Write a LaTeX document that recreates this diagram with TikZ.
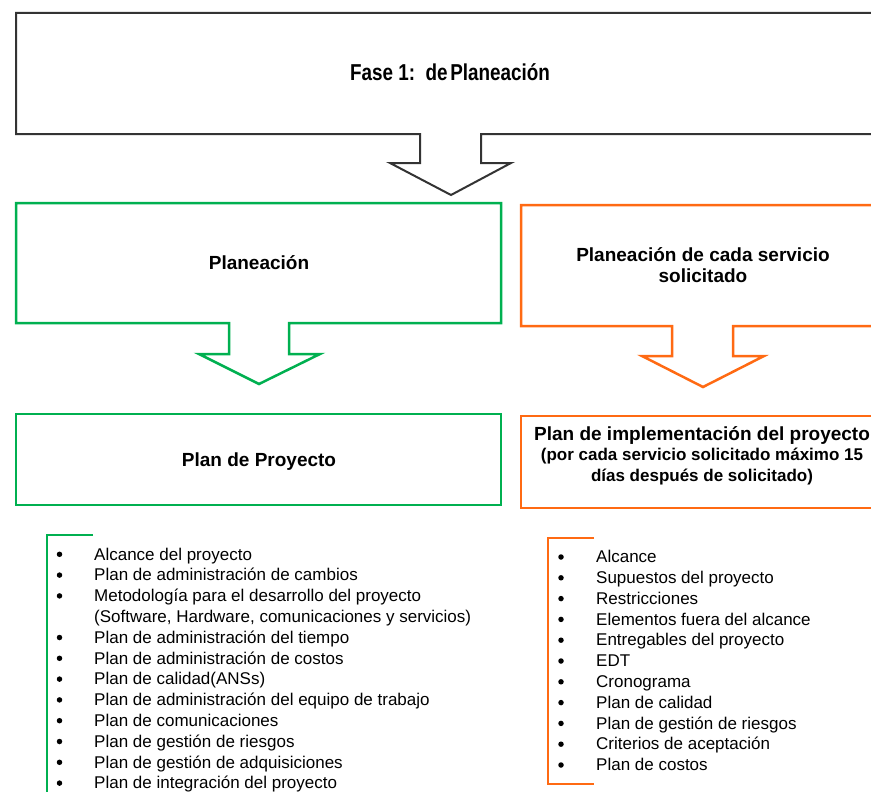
\documentclass[tikz,border=0pt]{standalone}
\usepackage{fontspec}
\setmainfont{Liberation Sans}
\newfontfamily\narrowfont[FakeStretch=0.82]{Liberation Sans}
\definecolor{verde}{HTML}{00B050}
\definecolor{naranja}{HTML}{FF6A13}
\definecolor{gris}{HTML}{333333}
\tikzset{
	titulo/.style={anchor=base, inner sep=0pt, font=\fontsize{19}{23}\selectfont\bfseries},
	subtitulo/.style={anchor=base, inner sep=0pt, font=\fontsize{17}{20}\selectfont\bfseries},
	item/.style={anchor=base west, inner sep=0pt, font=\fontsize{17}{20}\selectfont},
	vineta/.style={circle, fill=black, inner sep=0pt, minimum size=5.5pt},
}
\begin{document}
\begin{tikzpicture}[x=1pt, y=-1pt, line join=miter]
	\useasboundingbox (0,0) rectangle (871,792);
	\clip (0,0) rectangle (871,792);
	% fase 1
	\draw[gris, line width=2pt]
	(420,134)--(16,134)--(16,13)--(880,13)--(880,134)--(481,134)--(481,163)
	--(511,163)--(451,195)--(390,163)--(420,163)--cycle
	;
	\node[anchor=base, inner sep=0pt] (fase) at (450,81)
	{\narrowfont\fontsize{23}{27}\selectfont\bfseries Fase 1:\ \ de\hspace{0.12em}Planeación};
	% columna verde
	\draw[verde, line width=2.5pt]
	(229,323)--(16,323)--(16,203)--(501,203)--(501,323)--(289,323)--(289,354)
	--(320,354)--(259,384)--(199,354)--(229,354)--cycle
	;
	\draw[verde, line width=2.5pt] (16,414) rectangle (501,505);
	\path
	(259,269)node[titulo](planeacion){Planeación}
	(259,466)node[titulo](proyecto){Plan de Proyecto}
	;
	% columna naranja
	\draw[naranja, line width=2.5pt]
	(672,326)--(521,326)--(521,205)--(880,205)--(880,326)--(733,326)--(733,356)
	--(764,356)--(703,387)--(642,356)--(672,356)--cycle
	;
	\draw[naranja, line width=2.5pt] (521,416) rectangle (880,508);
	\path
	(703,261)node[titulo](servicio1){Planeación de cada servicio}
	(703,282)node[titulo](servicio2){solicitado}
	(702,440)node[titulo](impl1){Plan de implementación del proyecto}
	(702,460)node[subtitulo](impl2){(por cada servicio solicitado máximo 15}
	(702,481)node[subtitulo](impl3){días después de solicitado)}
	;
	% listas
	\draw[verde, line width=2pt] (93,535)--(47,535)--(47,800);
	\draw[naranja, line width=2pt] (594,538)--(548,538)--(548,784)--(594,784);
	\foreach \t [count=\i] in {Alcance del proyecto, Plan de administración de cambios,
		Metodología para el desarrollo del proyecto,
		{(Software, Hardware, comunicaciones y servicios)},
		Plan de administración del tiempo, Plan de administración de costos,
		Plan de calidad(ANSs), Plan de administración del equipo de trabajo,
		Plan de comunicaciones, Plan de gestión de riesgos,
		Plan de gestión de adquisiciones, Plan de integración del proyecto}
	\node[item] (verde\i) at (94,{560+20.8*(\i-1)}) {\t};
	\foreach \i in {1,2,3,5,6,7,8,9,10,11,12}
	\node[vineta] (pv\i) at (59.5,{554.3+20.8*(\i-1)}) {};
	\foreach \t [count=\i] in {Alcance, Supuestos del proyecto, Restricciones,
		Elementos fuera del alcance, Entregables del proyecto, EDT, Cronograma,
		Plan de calidad, Plan de gestión de riesgos, Criterios de aceptación,
		Plan de costos}
	{
	\node[item] (naranja\i) at (596,{562.7+20.8*(\i-1)}) {\t};
	\node[vineta] (pn\i) at (561,{557+20.8*(\i-1)}) {};
	}
\end{tikzpicture}
\end{document}
